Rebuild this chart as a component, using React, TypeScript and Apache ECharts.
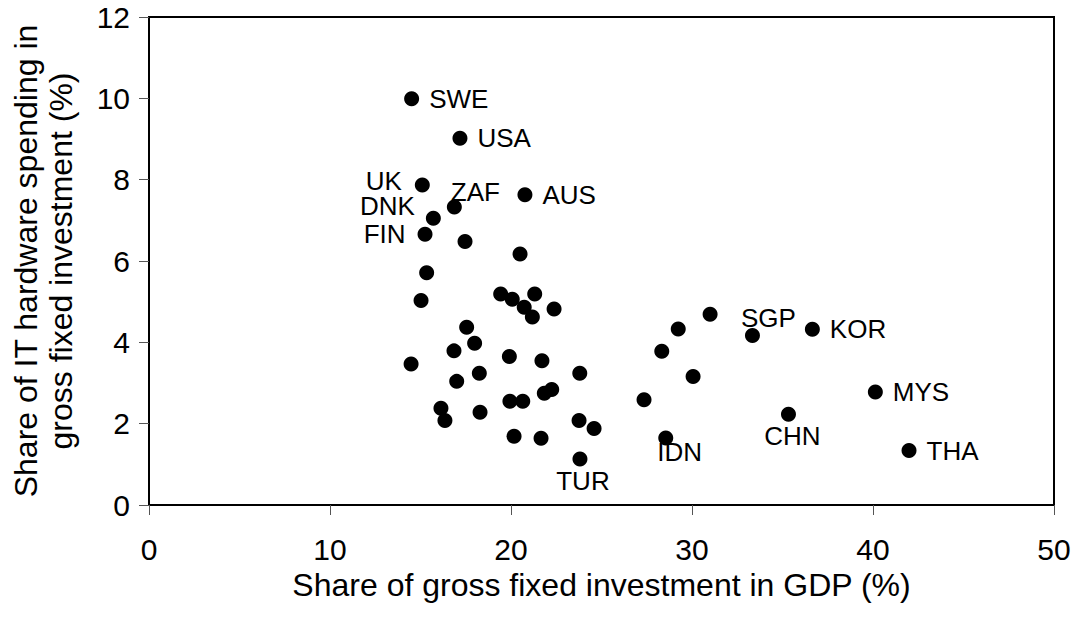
import React, { useEffect, useRef } from "react";
import * as echarts from "echarts";

// Share of gross fixed investment in GDP (%)
const investShare: number[] = [
  14.51, 17.18, 15.1, 16.87, 20.77, 15.71, 15.25, 17.46, 20.5, 15.34,
  15.03, 19.43, 20.07, 21.31, 20.73, 21.18, 22.38, 31.0, 29.24, 28.33,
  30.06, 27.35, 28.55, 17.55, 17.99, 16.85, 14.48, 19.91, 21.71, 23.8,
  18.25, 17.0, 22.25, 21.84, 19.94, 20.65, 16.13, 16.35, 18.29, 23.76,
  24.59, 20.17, 21.66, 23.81, 33.34, 36.65, 35.33, 40.13, 41.99,
];
// Share of IT hardware spending in gross fixed investment (%)
const itShare: number[] = [
  9.99, 9.02, 7.87, 7.33, 7.63, 7.05, 6.66, 6.48, 6.17, 5.71,
  5.03, 5.19, 5.06, 5.19, 4.86, 4.62, 4.82, 4.69, 4.33, 3.78,
  3.16, 2.59, 1.65, 4.37, 3.98, 3.79, 3.47, 3.65, 3.55, 3.24,
  3.24, 3.04, 2.84, 2.75, 2.55, 2.55, 2.38, 2.08, 2.28, 2.08,
  1.88, 1.69, 1.64, 1.13, 4.17, 4.32, 2.23, 2.78, 1.34,
];
const countries: string[] = [
  "SWE", "USA", "UK", "ZAF", "AUS", "DNK", "FIN", "", "", "",
  "", "", "", "", "", "", "", "", "", "",
  "", "", "IDN", "", "", "", "", "", "", "",
  "", "", "", "", "", "", "", "", "", "",
  "", "", "", "TUR", "SGP", "KOR", "CHN", "MYS", "THA",
];

const xTicks = { min: 0, max: 50, interval: 10 };
const yTicks = { min: 0, max: 12, interval: 2 };

// label placement (styling only): offset of label centre from the marker
const labelPlacement: Record<string, any> = {
  SWE: { position: "right", distance: 10, offset: [0, 0] },
  USA: { position: "right", distance: 10, offset: [0, 0] },
  AUS: { position: "right", distance: 10, offset: [0, 0] },
  KOR: { position: "right", distance: 10, offset: [0, 0] },
  MYS: { position: "right", distance: 10, offset: [0, 0] },
  THA: { position: "right", distance: 10, offset: [0, 0] },
  UK: { position: "left", distance: 13, offset: [0, -4] },
  DNK: { position: "left", distance: 11, offset: [0, -12] },
  FIN: { position: "left", distance: 12, offset: [0, 0] },
  ZAF: { position: "inside", offset: [21, -15] },
  SGP: { position: "inside", offset: [16, -17] },
  TUR: { position: "inside", offset: [3, 22] },
  IDN: { position: "inside", offset: [14, 14] },
  CHN: { position: "inside", offset: [4, 22] },
};

const FONT = "'Liberation Sans', Arial, sans-serif";

export default function App() {
  const ref = useRef<HTMLDivElement>(null);
  useEffect(() => {
    if (!ref.current) return;
    const chart = echarts.init(ref.current, undefined, { renderer: "svg" });
    const data = investShare.map((x, i) => {
      const name = countries[i];
      const item: any = { value: [x, itShare[i]], name };
      if (name) {
        const p = labelPlacement[name];
        item.label = {
          show: true,
          formatter: name,
          position: p.position,
          distance: p.distance ?? 5,
          offset: p.offset,
          color: "#000",
          fontSize: 26,
          fontFamily: FONT,
          textBorderWidth: 0,
        };
      }
      return item;
    });
    chart.setOption({
      animation: false,
      backgroundColor: "#fff",
      textStyle: { fontFamily: FONT },
      grid: {
        left: 149,
        right: 18,
        top: 17,
        bottom: 119,
        show: true,
        borderColor: "#000",
        borderWidth: 2,
        containLabel: false,
        outerBoundsMode: "none",
      },
      xAxis: {
        type: "value",
        min: xTicks.min,
        max: xTicks.max,
        interval: xTicks.interval,
        name: "Share of gross fixed investment in GDP (%)",
        nameLocation: "middle",
        nameGap: 50,
        nameTextStyle: { fontSize: 32, color: "#000", fontFamily: FONT },
        axisLine: { show: true, onZero: false, lineStyle: { color: "#000", width: 2 } },
        axisTick: { show: true, inside: false, length: 10, lineStyle: { color: "#555", width: 1 } },
        axisLabel: { fontSize: 30, color: "#000", margin: 29, fontFamily: FONT },
        splitLine: { show: false },
      },
      yAxis: {
        type: "value",
        min: yTicks.min,
        max: yTicks.max,
        interval: yTicks.interval,
        name: "Share of IT hardware spending in\ngross fixed investment (%)",
        nameLocation: "middle",
        nameRotate: 90,
        nameGap: 71,
        nameTextStyle: { fontSize: 32, color: "#000", fontFamily: FONT, lineHeight: 35 },
        axisLine: { show: true, onZero: false, lineStyle: { color: "#000", width: 2 } },
        axisTick: { show: true, inside: false, length: 10, lineStyle: { color: "#555", width: 1 } },
        axisLabel: { fontSize: 30, color: "#000", margin: 19, fontFamily: FONT },
        splitLine: { show: false },
      },
      series: [
        {
          type: "scatter",
          symbol: "circle",
          symbolSize: 15,
          itemStyle: { color: "#000", opacity: 1 },
          emphasis: { disabled: true },
          data,
        },
      ],
    });
    return () => chart.dispose();
  }, []);
  return <div ref={ref} style={{ width: 1072, height: 624, position: "absolute", left: 0, top: 0 }} />;
}
